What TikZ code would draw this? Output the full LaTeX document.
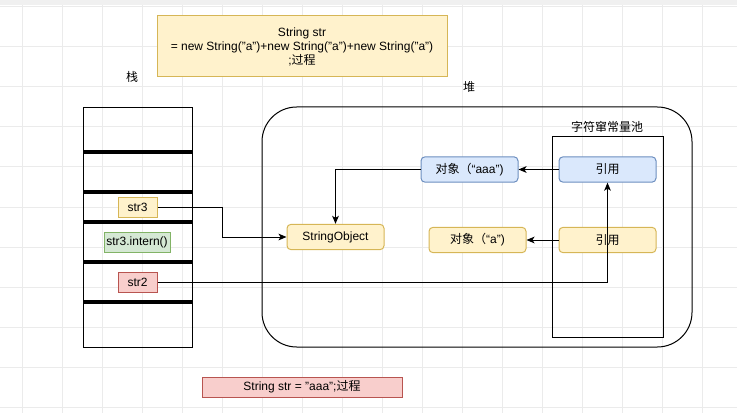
\documentclass[tikz,border=0pt]{standalone}
\usepackage{fontspec}
\setmainfont{Liberation Sans}
\newfontfamily\cjk{Noto Sans CJK SC}
\usetikzlibrary{arrows.meta}

\definecolor{yellowfill}{HTML}{FFF2CC}
\definecolor{yellowline}{HTML}{D6B656}
\definecolor{bluefill}{HTML}{DAE8FC}
\definecolor{blueline}{HTML}{6C8EBF}
\definecolor{greenfill}{HTML}{D5E8D4}
\definecolor{greenline}{HTML}{82B366}
\definecolor{redfill}{HTML}{F8CECC}
\definecolor{redline}{HTML}{B85450}
\definecolor{gridgray}{HTML}{EBEBEB}

\begin{document}
\begin{tikzpicture}[x=0.75pt, y=-0.75pt,
    font=\fontsize{9}{10.5}\selectfont,
    box/.style ={rectangle, inner sep=0pt, line width=0.75pt, align=center},
    yellowbox/.style ={box, draw=yellowline, fill=yellowfill},
    bluebox/.style ={box, draw=blueline, fill=bluefill},
    greenbox/.style ={box, draw=greenline, fill=greenfill},
    redbox/.style ={box, draw=redline, fill=redfill},
    object/.style ={minimum width=72.75pt, minimum height=19pt, rounded corners=3pt},
    slot/.style ={minimum width=29.25pt, minimum height=15pt},
    divider/.style ={line width=2.5pt},
    arrow/.style ={line width=0.75pt, -{Stealth[length=6pt, width=5pt, inset=1.5pt]}}]
   \useasboundingbox (0,0) rectangle (737,413);

   % background grid
   \foreach \x in {22,62,...,702} \draw[gridgray, line width=0.75pt] (\x,5) -- (\x,413);
   \foreach \y in {7,47,...,407} \draw[gridgray, line width=0.75pt] (0,\y) -- (737,\y);
   \fill[gray!12] (0,0) rectangle (737,5);

   % titles
   \node[yellowbox, minimum width=217.5pt, minimum height=45.75pt] (title) at (302,46.5)
     {String str\\= new String("a")+new String("a")+new String("a")\\;{\cjk 过程}};
   \node[redbox, minimum width=150pt, minimum height=15pt] (literal) at (302,387)
     {String str = "aaa";{\cjk 过程}};

   % stack
   \node[font=\cjk\fontsize{9}{10.5}\selectfont] (stacklabel) at (132,77) {栈};
   \node[box, draw=black, minimum width=81.75pt, minimum height=179.25pt] (stack) at (137.5,227.5) {};
   \foreach \y in {152,192,222,262,302} \draw[divider] (83,\y) -- (192,\y);
   \node[yellowbox, slot] (str3) at (137.5,207) {str3};
   \node[greenbox, minimum width=49.5pt, minimum height=15pt] (intern) at (137,242) {str3.intern()};
   \node[redbox, slot] (str2) at (137.5,282) {str2};

   % heap
   \node[font=\cjk\fontsize{9}{10.5}\selectfont] (heaplabel) at (469,87) {堆};
   \node[box, draw=black, minimum width=322.5pt, minimum height=180pt, rounded corners=26pt] (heap) at (477,227) {};
   \node[font=\cjk\fontsize{9}{10.5}\selectfont] (poollabel) at (607,127) {字符窜常量池};
   \node[box, draw=black, minimum width=83.25pt, minimum height=150pt] (pool) at (607.5,237) {};

   \node[bluebox, object] (refaaa) at (607.5,169.5) {\cjk 引用};
   \node[yellowbox, object] (refa) at (607.5,240) {\cjk 引用};
   \node[bluebox, object] (objaaa) at (469.5,169.5) {{\cjk 对象（}“aaa”)};
   \node[yellowbox, object] (obja) at (477.5,240) {{\cjk 对象（}“a”)};
   \node[yellowbox, object] (strobj) at (335.5,237) {StringObject};

   \draw[arrow] (refaaa) to (objaaa);
   \draw[arrow] (refa) to (obja);
   \draw[arrow] (objaaa.west) -| (strobj.north);
   \draw[arrow] (str3.east) -- ++(65,0) |- (strobj.west);
   \draw[arrow] (str2.east) -| (refaaa.south);
 \end{tikzpicture}
\end{document}
